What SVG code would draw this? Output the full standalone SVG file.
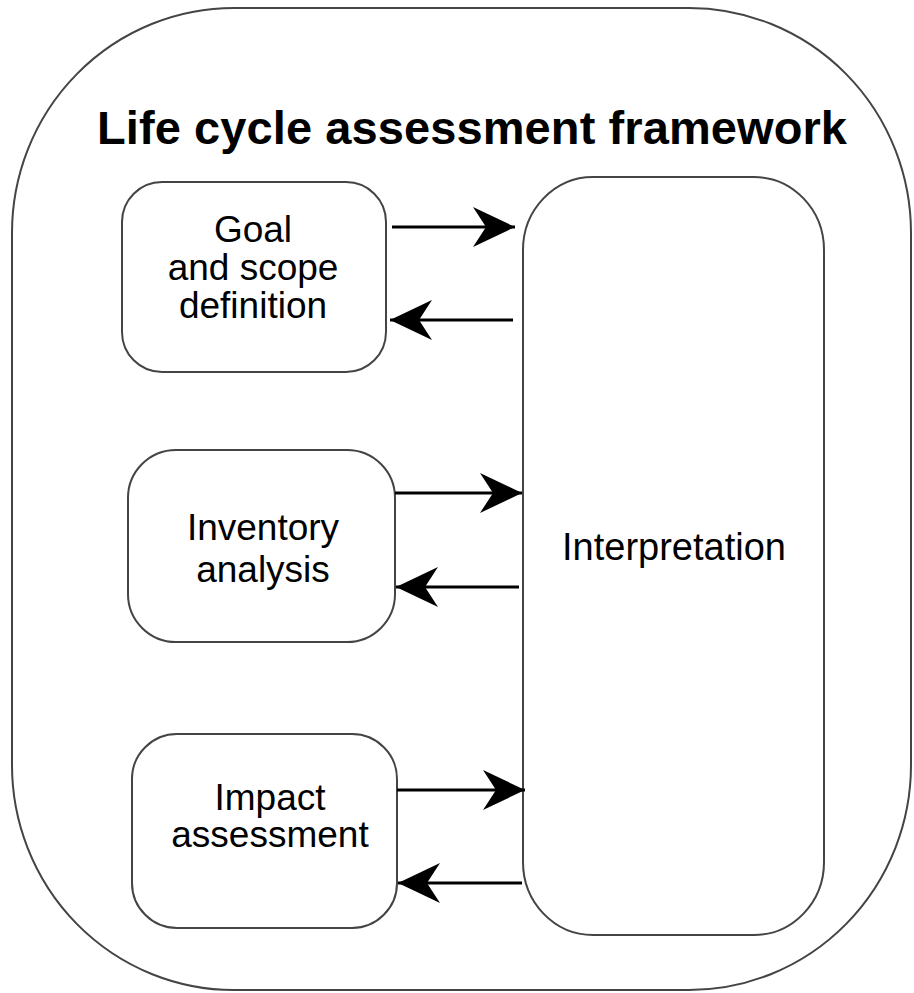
<svg xmlns="http://www.w3.org/2000/svg" width="914" height="993" viewBox="0 0 914 993">
<style>
.box{fill:#fff;stroke:#444;stroke-width:2}
.lbl{font-family:"Liberation Sans",Arial,sans-serif;font-size:37px;fill:#000;text-anchor:middle}
.title{font-family:"Liberation Sans",Arial,sans-serif;font-size:47px;font-weight:bold;fill:#000;text-anchor:middle}
.arr{stroke:#000;stroke-width:3;fill:none;marker-end:url(#ah)}
</style>
<defs>
<marker id="ah" viewBox="0 0 42 40" refX="42" refY="20" markerWidth="42" markerHeight="40" markerUnits="userSpaceOnUse" orient="auto">
<path d="M0,0 L42,20 L0,40 L13,20 Z" fill="#000"/>
</marker>
</defs>
<rect width="914" height="993" fill="#fff"/>
<g id="framework">
<rect class="box" x="12" y="8" width="899" height="982" rx="222" ry="225"/>
<text class="title" x="472" y="144" textLength="750" lengthAdjust="spacing">Life cycle assessment framework</text>
</g>
<g id="goal">
<rect class="box" x="122" y="182" width="264" height="190" rx="40"/>
<text class="lbl" x="253" y="242">Goal</text>
<text class="lbl" x="253" y="280">and scope</text>
<text class="lbl" x="253" y="318">definition</text>
</g>
<g id="inventory">
<rect class="box" x="128" y="450" width="267" height="192" rx="48"/>
<text class="lbl" x="263" y="540">Inventory</text>
<text class="lbl" x="263" y="582">analysis</text>
</g>
<g id="impact">
<rect class="box" x="132" y="734" width="265" height="194" rx="45"/>
<text class="lbl" x="270" y="810">Impact</text>
<text class="lbl" x="270" y="847">assessment</text>
</g>
<g id="interpretation">
<rect class="box" x="523" y="177" width="301" height="758" rx="70" ry="73"/>
<text class="lbl" x="674" y="560" style="font-size:38px">Interpretation</text>
</g>
<g id="connectors">
<line class="arr" x1="392" y1="227" x2="515" y2="227"/>
<line class="arr" x1="513" y1="320" x2="390" y2="320"/>
<line class="arr" x1="395" y1="493" x2="522" y2="493"/>
<line class="arr" x1="519" y1="587" x2="396" y2="587"/>
<line class="arr" x1="397" y1="790" x2="525" y2="790"/>
<line class="arr" x1="522" y1="883" x2="398" y2="883"/>
</g>
</svg>
